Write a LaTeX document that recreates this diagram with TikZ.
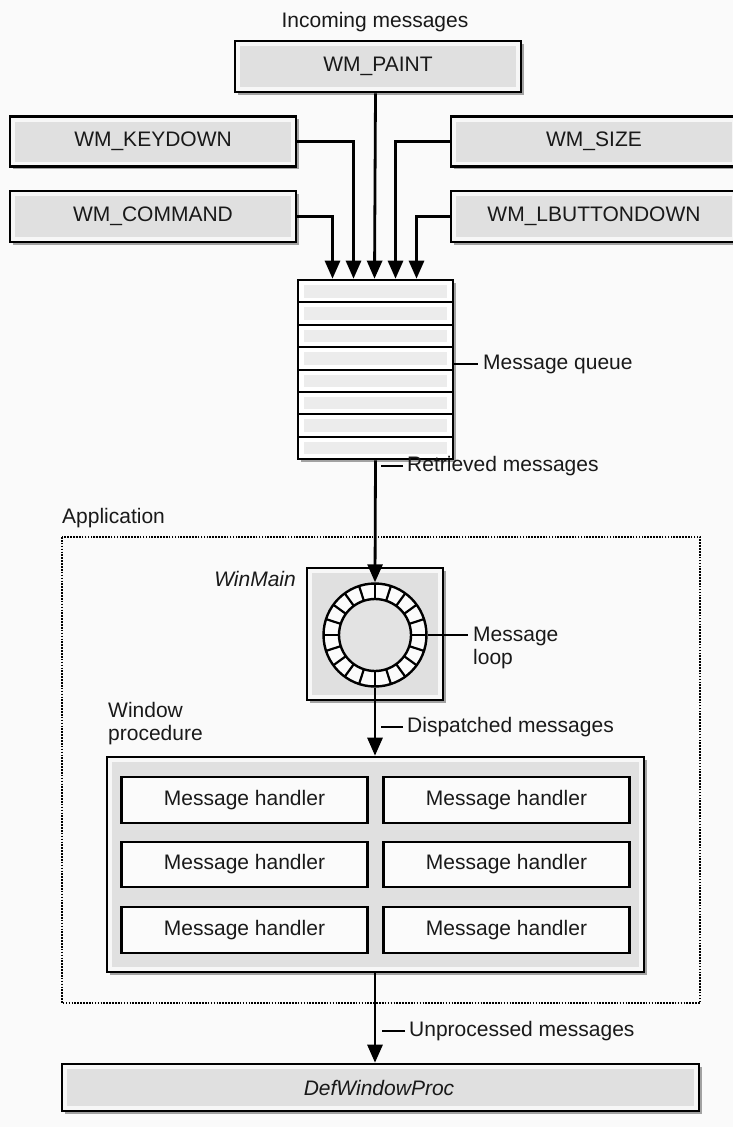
\documentclass[tikz,border=0pt]{standalone}
\usepackage{fontspec}
\setmainfont{Liberation Sans}
\usetikzlibrary{arrows.meta,shadows,calc}
\newcommand\diagfont{\fontsize{21}{23}\selectfont}
\begin{document}
\begin{tikzpicture}[x=1pt,y=-1pt,
  every node/.style={font=\diagfont, text=black!90},
  lbl/.style={inner sep=0pt},
  ilbl/.style={inner sep=0pt, font=\diagfont\itshape},
  shade box/.style={draw=black, line width=2.6pt, fill=gray!6, inner sep=0pt,
    drop shadow={shadow xshift=2.5pt, shadow yshift=-2.5pt, fill=black, opacity=0.35},
    path picture={\fill[gray!24] ([shift={(5pt,5pt)}]path picture bounding box.south west)
      rectangle ([shift={(-5pt,-5pt)}]path picture bounding box.north east);}},
  wmbox/.style={shade box, minimum width=286, minimum height=50},
  handler/.style={draw=black, line width=2.4pt, fill=gray!3, inner sep=0pt,
    minimum width=246, minimum height=46},
  arr/.style={line width=2.8pt, -{Triangle[length=18pt,width=15pt]}},
  tick/.style={line width=1.8pt}
]
\fill[gray!4] (0,0) rectangle (733,1127);
\useasboundingbox (0,0) rectangle (733,1127);

% incoming messages
\node[lbl] (inc) at (375,22) {Incoming messages};
\node[wmbox, minimum height=51] (paint) at (378,66.5) {WM\_PAINT};
\node[wmbox] (keydown) at (153,141.5) {WM\_KEYDOWN};
\node[wmbox] (size) at (594,141.5) {WM\_SIZE};
\node[wmbox, minimum height=51] (command) at (153,216.5) {WM\_COMMAND};
\node[wmbox, minimum height=51] (lbutton) at (594,216.5) {WM\_LBUTTONDOWN};

% message queue
\node[draw=black, line width=2.6pt, fill=white, inner sep=0pt,
  minimum width=155, minimum height=179,
  drop shadow={shadow xshift=2.5pt, shadow yshift=-2.5pt, fill=black, opacity=0.35}]
  (queue) at (375.5,369.5) {};
\foreach \i in {0,...,7} {
  \fill[gray!15] (304, 280+\i*22.375+5) rectangle (447, 280+\i*22.375+17.5);
}
\foreach \i in {1,...,7} {
  \draw[line width=2pt] (298, 280+\i*22.375) -- (453, 280+\i*22.375);
}
\node[lbl, anchor=west] (mq) at (483,364) {Message queue};
\draw[tick] (queue.east |- mq.west) -- ($(mq.west)+(-5,0)$);

% incoming arrows
\draw[arr] (command.east) -| ($(queue.north)+(-43,0)$);
\draw[arr] (keydown.east) -| ($(queue.north)+(-22,0)$);
\draw[arr] (paint.south -| queue.north) -- ($(queue.north)+(-1,0)$);
\draw[arr] (size.west) -| ($(queue.north)+(20,0)$);
\draw[arr] (lbutton.west) -| ($(queue.north)+(41,0)$);

% application frame
\node[lbl, anchor=west] (app) at (62,518) {Application};
\draw[line width=2.2pt, dash pattern=on 1.6pt off 1.3pt] (62,537) rectangle (700,1003);

% WinMain
\node[shade box, minimum width=136, minimum height=132] (winbox) at (375,634) {};
\node[ilbl, anchor=east] (wm) at (296,579) {WinMain};
\node[circle, draw=black, line width=2.4pt, fill=gray!3, inner sep=0pt, minimum size=103] (ring) at (375,635) {};
\node[circle, draw=black, line width=2.4pt, fill=gray!22, inner sep=0pt, minimum size=72] (hub) at (375,635) {};
\foreach \a in {0,18,...,342} {
  \draw[line width=2.2pt] (ring.center) ++(\a:36) -- ++(\a:15.5);
}
\node[lbl, anchor=north west, align=left] (ml) at (473,627) {Message\\loop};
\draw[tick] (ring.east) -- (468,635);

\draw[arr] (queue.south) -- (ring.north);
\node[lbl, anchor=west] (rm) at (407,466) {Retrieved messages};
\draw[tick] ($(rm.west)+(-4,0)$) -- ($(rm.west)+(-26,0)$);

% window procedure
\node[lbl, anchor=north west, align=left] (wpl) at (108,702) {Window\\procedure};
\node[shade box, minimum width=537, minimum height=215] (wp) at (375.5,864.5) {};
\node[handler] (h11) at (244.5,800) {Message handler};
\node[handler] (h12) at (506.5,800) {Message handler};
\node[handler, minimum height=45] (h21) at (244.5,864.5) {Message handler};
\node[handler, minimum height=45] (h22) at (506.5,864.5) {Message handler};
\node[handler] (h31) at (244.5,930) {Message handler};
\node[handler] (h32) at (506.5,930) {Message handler};

\draw[arr] (ring.south) -- (wp.north -| ring.south);
\node[lbl, anchor=west] (dm) at (407,727) {Dispatched messages};
\draw[tick] ($(dm.west)+(-4,0)$) -- ($(dm.west)+(-26,0)$);

% DefWindowProc
\node[shade box, minimum width=637, minimum height=47] (def) at (380.5,1087.5) {};
\node[ilbl] (deft) at (379,1088) {DefWindowProc};
\draw[arr] (wp.south -| ring.south) -- (def.north -| ring.south);
\node[lbl, anchor=west] (um) at (409,1031) {Unprocessed messages};
\draw[tick] ($(um.west)+(-4,0)$) -- ($(um.west)+(-27,0)$);
\end{tikzpicture}
\end{document}
